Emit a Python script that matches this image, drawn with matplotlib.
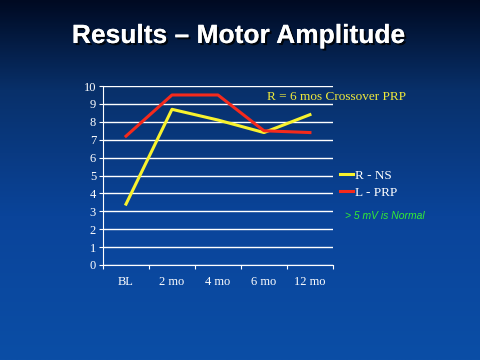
import numpy as np
import matplotlib
matplotlib.use("Agg")
import matplotlib.pyplot as plt
import matplotlib.patheffects as pe
from matplotlib.colors import LinearSegmentedColormap

# data
categories = ["BL", "2 mo", "4 mo", "6 mo", "12 mo"]
r_ns = [3.4, 8.7, 8.1, 7.4, 8.4]
l_prp = [7.2, 9.5, 9.5, 7.5, 7.4]
yticks = list(range(0, 11))

fig = plt.figure(figsize=(4.8, 3.6), dpi=100)

# slide background gradient
bg = fig.add_axes([0, 0, 1, 1], zorder=0)
cmap = LinearSegmentedColormap.from_list(
    "slide", [(0.0, "#000a22"), (0.25, "#08306a"), (0.6, "#0a449a"), (1.0, "#0b4ea6")])
grad = np.linspace(0, 1, 256).reshape(-1, 1)
bg.imshow(grad, aspect="auto", cmap=cmap, extent=[0, 1, 0, 1], origin="upper")
bg.set_xlim(0, 1)
bg.set_ylim(0, 1)
bg.axis("off")

fig.text(0.497, 0.9, "Results \u2013 Motor Amplitude", ha="center", va="center",
         color="white", fontsize=19, fontweight="bold", family="Liberation Sans",
         path_effects=[pe.withSimplePatchShadow(offset=(1.5, -1.5), shadow_rgbFace="black", alpha=0.8),
                       pe.Normal()])

ax = fig.add_axes([0.2146, 0.264, 0.479, 0.497], zorder=1)
ax.patch.set_alpha(0)
x = np.arange(len(categories))
ax.plot(x, r_ns, color="#f8f22e", lw=2.2, label="R - NS", zorder=3)
ax.plot(x, l_prp, color="#f52a1c", lw=2.2, label="L - PRP", zorder=3)

ax.set_xlim(-0.5, len(categories) - 0.5)
ax.set_ylim(0, 10)
ax.set_yticks(yticks)
ax.yaxis.grid(True, color="white", lw=1)
ax.set_axisbelow(True)
ax.set_xticks(np.arange(-0.5, len(categories), 1.0))
ax.set_xticklabels([])
ax.set_xticks(x, minor=True)
ax.set_xticklabels(categories, minor=True)
ax.tick_params(axis="x", which="major", direction="out", length=3, color="white")
ax.tick_params(axis="x", which="minor", length=0, pad=8)
ax.tick_params(axis="y", direction="out", length=3, color="white", pad=2)
for lab in ax.get_xticklabels(minor=True) + ax.get_yticklabels():
    lab.set_color("white")
    lab.set_family("Liberation Serif")
    lab.set_fontsize(9)
for s in ["top", "right"]:
    ax.spines[s].set_visible(False)
for s in ["left", "bottom"]:
    ax.spines[s].set_color("white")

fig.text(0.702, 0.731, "R = 6 mos Crossover PRP", ha="center",
         va="center", color="#f0ea3a", fontsize=9.5, family="Liberation Serif")

leg = ax.legend(loc="upper left", bbox_to_anchor=(0.98, 0.60), frameon=False,
                handlelength=1.0, handletextpad=0.15, labelspacing=0.35,
                prop={"family": "Liberation Serif", "size": 9.5})
for t in leg.get_texts():
    t.set_color("white")

fig.text(0.718, 0.40, "> 5 mV is Normal", color="#33ee33", fontsize=7.5,
         style="italic", family="Liberation Sans", va="center")

fig.savefig("out.png", dpi=100)
